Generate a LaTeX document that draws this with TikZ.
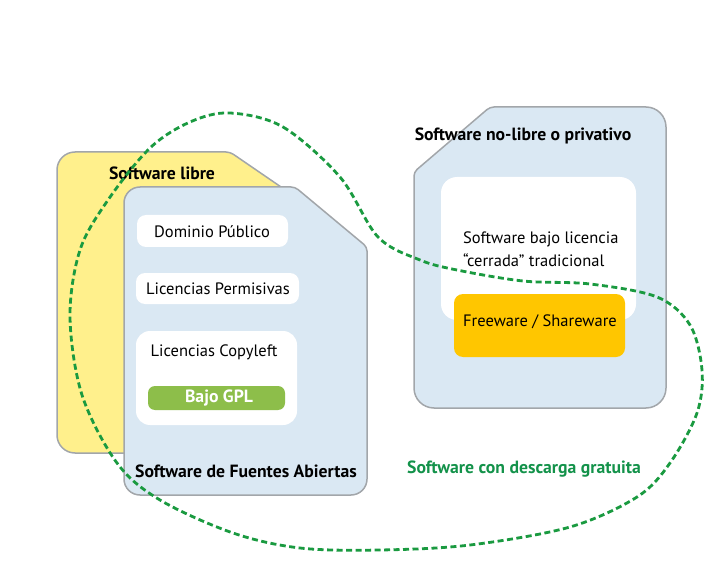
\documentclass[tikz,border=0pt]{standalone}
\usepackage{fontspec}
\setmainfont{PT Sans}
\definecolor{libreY}{HTML}{FFF08C}
\definecolor{paleB}{HTML}{DAE8F3}
\definecolor{edgeG}{HTML}{A2A6AA}
\definecolor{gplG}{HTML}{8DBE4A}
\definecolor{freeO}{HTML}{FFC600}
\definecolor{dashG}{HTML}{1A9A40}
\definecolor{txtG}{HTML}{13924A}
\begin{document}
\begin{tikzpicture}[x=1pt,y=-1pt,
  panel/.style={draw=edgeG,line width=1.5pt},
  whitebox/.style={fill=white,rounded corners=9pt},
  title/.style={font=\fontsize{17.7}{20}\selectfont\bfseries,text=black,inner sep=0pt},
  label/.style={font=\fontsize{16.5}{23}\selectfont,text=black,inner sep=0pt},
  loopline/.style={draw=dashG,line width=2.8pt,dash pattern=on 6pt off 3.5pt}]
\useasboundingbox (0,0) rectangle (723,564);
% Software libre (yellow)
\path[panel,fill=libreY] (57,300) [rounded corners=18pt] -- (57,152) [rounded corners=4pt] -- (230,152) -- (300,200) -- (300,452) [rounded corners=18pt] -- (300,453) -- (57,453) -- cycle;
% Software de Fuentes Abiertas (blue)
\path[panel,fill=paleB] (124,350) [rounded corners=16pt] -- (124,187) [rounded corners=4pt] -- (295,187) -- (367,247) [rounded corners=16pt] -- (367,495) -- (124,495) -- cycle;
% Software no-libre (blue)
\path[panel,fill=paleB] (414,300) [rounded corners=4pt] -- (414,172) -- (490,107) [rounded corners=20pt] -- (666,107) -- (666,408) -- (414,408) -- cycle;
% white boxes left
\path[whitebox] (137,215) rectangle (288,247);
\path[whitebox] (136,273) rectangle (299,304);
\path[whitebox,rounded corners=14pt] (136,331) rectangle (297,425);
\path[fill=gplG,rounded corners=7pt] (148,386) rectangle (285,410);
% right inner boxes
\path[whitebox,rounded corners=16pt] (441,177) rectangle (636,320);
\path[fill=freeO,rounded corners=9pt] (454,294) rectangle (625,357);
% texts
\node[title] (libre) at (162,173) {Software libre};
\node[title] (fuentes) at (246,471) {Software de Fuentes Abiertas};
\node[title] (privativo) at (523,136) {Software no-libre o privativo};
\node[label] (dominio) at (212,232) {Dominio Público};
\node[label] (permisivas) at (218,289) {Licencias Permisivas};
\node[label] (copyleft) at (214,352) {Licencias Copyleft};
\node[title,text=white] (gpl) at (219,398) {Bajo GPL};
\node[label,anchor=west,align=left] (cerrada) at (463,249) {Software bajo licencia\\“cerrada” tradicional};
\node[label,anchor=west] (freeware) at (463,322) {Freeware / Shareware};
\node[title,text=txtG] (gratis) at (524,469) {Software con descarga gratuita};
% dashed loop
\draw[loopline] plot[smooth cycle,tension=0.55] coordinates {
 (230,113) (283,127) (340,177) (378,237) (420,260) (457,270) (523,281) (590,284)
 (657,297) (690,325) (702,370) (697,413) (670,463) (637,497) (570,527) (470,545)
 (380,550) (300,548) (233,533) (160,500) (117,463) (82,395) (70,317) (80,250)
 (108,200) (150,148) (190,122)};
\end{tikzpicture}
\end{document}
